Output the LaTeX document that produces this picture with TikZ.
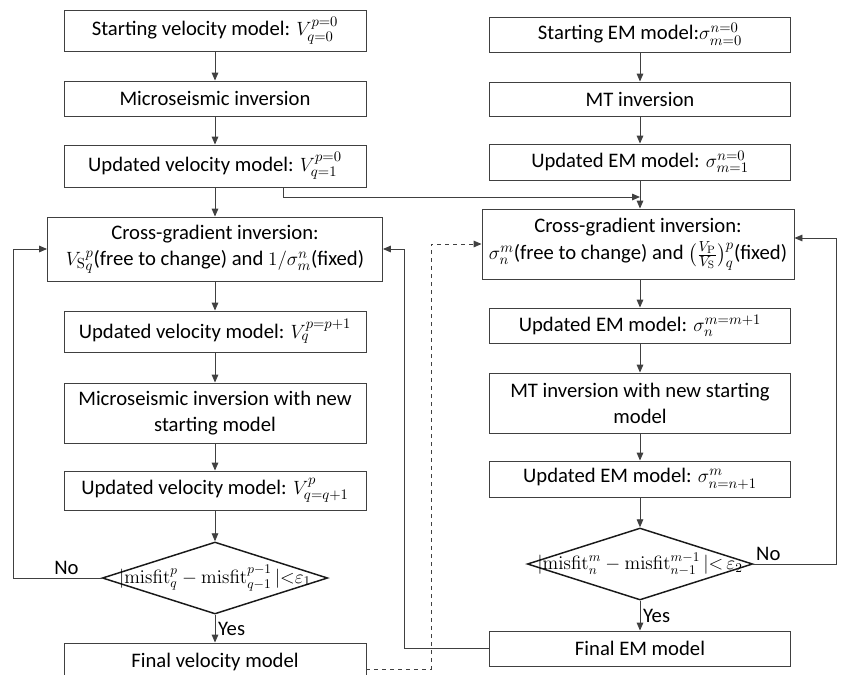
\documentclass[tikz,border=0pt]{standalone}
\usepackage{amsmath}
\usepackage[no-math]{fontspec}
\setmainfont{Carlito}
\usetikzlibrary{arrows.meta, calc, shapes.geometric}

\tikzset{
  box/.style={draw=black!75, line width=0.7pt, minimum width=226.5pt, align=center, inner sep=1pt, font=\fontsize{15.5}{19.5}\selectfont},
  dec/.style={diamond, draw=black!90, line width=1.1pt, aspect=3.1, inner sep=-12pt, minimum width=169pt, minimum height=54pt, font=\fontsize{14}{16}\selectfont},
  arr/.style={-{Triangle[length=6pt,width=5pt]}, line width=0.7pt, draw=black!75},
  lbl/.style={font=\fontsize{15.5}{16}\selectfont, inner sep=2pt},
}

\begin{document}
\begin{tikzpicture}[x=0.75pt, y=-0.75pt]
\useasboundingbox (0,0) rectangle (843,675);
% velocity branch
\node[box, minimum height=30.75pt] (L1) at (215,30.5) {Starting velocity model: $V^{p=0}_{q=0}$};
\node[box, minimum height=26.25pt] (L2) at (215,98.5) {Microseismic inversion};
\node[box, minimum height=31.5pt] (L3) at (215,166) {Updated velocity model: $V^{p=0}_{q=1}$};
\node[box, minimum height=48pt, minimum width=251.25pt] (L4) at (215,249) {Cross-gradient inversion:\\${V_{\mathrm{S}}}^{p}_{q}$(free to change) and $1/\sigma^{n}_{m}$(fixed)};
\node[box, minimum height=30.75pt] (L5) at (215,331.5) {Updated velocity model: $V^{p=p+1}_{q}$};
\node[box, minimum height=45pt] (L6) at (215,413) {Microseismic inversion with new\\starting model};
\node[box, minimum height=29.25pt] (L7) at (215,490.5) {Updated velocity model: $V^{p}_{q=q+1}$};
\node[dec] (L8) at (215,578) {$|\mathrm{misfit}^{p}_{q}-\mathrm{misfit}^{p-1}_{q-1}\,|{<}\varepsilon_1$};
\node[box, minimum height=28.5pt] (L9) at (215,662) {Final velocity model};
% EM branch
\node[box, minimum width=225.75pt, minimum height=26.25pt] (R1) at (640,34.5) {Starting EM model:$\sigma^{n=0}_{m=0}$};
\node[box, minimum width=225.75pt, minimum height=25.5pt] (R2) at (640,99) {MT inversion};
\node[box, minimum width=225.75pt, minimum height=27pt] (R3) at (640,162) {Updated EM model: $\sigma^{n=0}_{m=1}$};
\node[box, minimum width=234pt, minimum height=52.5pt] (R4) at (638,244) {Cross-gradient inversion:\\[1pt]$\sigma^{m}_{n}$(free to change) and $\bigl(\tfrac{V_{\mathrm{P}}}{V_{\mathrm{S}}}\bigr)^{p}_{q}$(fixed)};
\node[box, minimum width=225.75pt, minimum height=26.25pt] (R5) at (640,325.5) {Updated EM model: $\sigma^{m=m+1}_{n}$};
\node[box, minimum width=225.75pt, minimum height=45pt] (R6) at (640,403) {MT inversion with new starting\\model};
\node[box, minimum width=225.75pt, minimum height=27pt] (R7) at (640,479) {Updated EM model: $\sigma^{m}_{n=n+1}$};
\node[dec] (R8) at (640,564) {$|\mathrm{misfit}^{m}_{n}-\mathrm{misfit}^{m-1}_{n-1}\,|{<}\,\varepsilon_2$};
\node[box, minimum width=225.75pt, minimum height=26.25pt] (R9) at (640,648.5) {Final EM model};
\coordinate (joinR) at (640,197);
% straight flow
\draw[arr] (L1) -- (L2);
\draw[arr] (L2) -- (L3);
\draw[arr] (L3) -- (L4);
\draw[arr] (L4) -- (L5);
\draw[arr] (L5) -- (L6);
\draw[arr] (L6) -- (L7);
\draw[arr] (L7) -- (L8);
\draw[arr] (L8) -- node[lbl, right] {Yes} (L9);
\draw[arr] (R1) -- (R2);
\draw[arr] (R2) -- (R3);
\draw[arr] (R3.south) -- (R3.south |- R4.north);
\draw[arr] (R5 |- R4.south) -- (R5);
\draw[arr] (R5) -- (R6);
\draw[arr] (R6) -- (R7);
\draw[arr] (R7) -- (R8);
\draw[arr] (R8) -- node[lbl, right] {Yes} (R9);
% links between branches
\draw[arr] ($(L3.south)+(68,0)$) |- (joinR);
\draw[arr] (L8.west) -- node[lbl, pos=0.4, above] {No} ++(-88,0) |- (L4.west);
\draw[arr] (R8.east) -- node[lbl, pos=0.18, above] {No} ++(83,0) |- ($(R4.east)+(0,-6)$);
\draw[arr, dashed] ($(L9.east)+(0,7)$) -- ++(65,0) |- (R4.west);
\draw[arr] (R9.west) -- ++(-85,0) |- (L4.east);
\end{tikzpicture}
\end{document}
